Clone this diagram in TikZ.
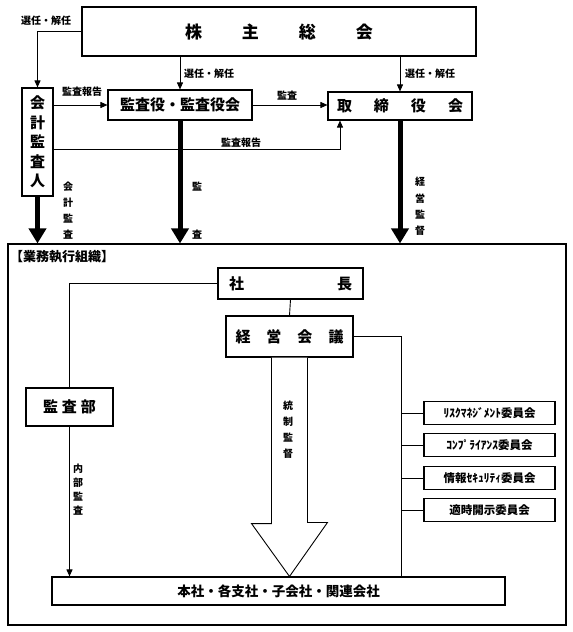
\documentclass[tikz,border=0pt]{standalone}
\usepackage{fontspec}
\setmainfont{Noto Sans CJK JP}
\usetikzlibrary{arrows.meta,calc}

\begin{document}
\begin{tikzpicture}[x=1pt,y=-1pt,
  box/.style={draw,line width=1.1pt,fill=white,inner sep=0pt,font=\bfseries\fontsize{15}{15}\selectfont},
  iinkaibox/.style={box,minimum width=131pt,minimum height=23pt,font=\bfseries\fontsize{11.5}{12}\selectfont},
  lbl/.style={inner sep=0pt,font=\bfseries\fontsize{10}{10}\selectfont},
  vlbl/.style={lbl,align=center},
  line/.style={line width=0.9pt},
  arr/.style={line,-{Triangle[width=6pt,length=7pt]}},
  bigarr/.style={line width=5pt,-{Triangle[width=17pt,length=15pt]}}]
	\useasboundingbox (0,0) rectangle (573,632);
	
	% Upper part
	\node[box,minimum width=394pt,minimum height=49pt,font=\bfseries\fontsize{17}{17}\selectfont] (kabunushi) at (279,31.5) {株\hspace{40pt}主\hspace{40pt}総\hspace{40pt}会};
	\node[box,minimum width=31pt,minimum height=108pt,align=center,font=\bfseries\fontsize{15}{19.5}\selectfont] (kaikei) at (37.5,142) {会\\計\\監\\査\\人};
	\node[box,minimum width=144pt,minimum height=30pt] (kansayaku) at (180,105) {監査役・監査役会};
	\node[box,minimum width=144pt,minimum height=28pt] (torishimari) at (400,106) {取\hspace{22pt}締\hspace{22pt}役\hspace{22pt}会};
	
	\draw[arr] (kabunushi.west) -| (kaikei.north);
	\draw[arr] (kansayaku.north |- kabunushi.south) -- (kansayaku.north);
	\draw[arr] (torishimari.north |- kabunushi.south) -- (torishimari.north);
	\draw[arr] (kaikei.east |- kansayaku.west) -- (kansayaku.west);
	\draw[arr] (kansayaku.east) -- (kansayaku.east -| torishimari.west);
	\draw[arr] ([yshift=-7pt]kaikei.east) -| ([xshift=-60pt]torishimari.south);
	
	\node[lbl] (sennin1) at (46,21) {選任・解任};
	\node[lbl] (sennin2) at (209,74) {選任・解任};
	\node[lbl] (sennin3) at (430,74) {選任・解任};
	\node[lbl] (hokoku1) at (82,92) {監査報告};
	\node[lbl] (kansa1) at (287,96) {監査};
	\node[lbl] (hokoku2) at (241,143) {監査報告};
	
	% Execution organisation
	\node[box,minimum width=558pt,minimum height=381pt,fill=none] (soshiki) at (287,434.5) {};
	\node[lbl,anchor=west,font=\bfseries\fontsize{13}{13}\selectfont] (titel) at (10,257) {【業務執行組織】};
	
	\draw[bigarr] (kaikei.south) -- (kaikei.south |- soshiki.north);
	\draw[bigarr] (kansayaku.south) -- (kansayaku.south |- soshiki.north);
	\draw[bigarr] (torishimari.south) -- (torishimari.south |- soshiki.north);
	\node[vlbl,font=\bfseries\fontsize{10}{16}\selectfont] (kaikeikansa) at (68,211) {会\\計\\監\\査};
	\node[vlbl,font=\bfseries\fontsize{10}{48}\selectfont] (kansa2) at (197,211) {監\\査};
	\node[vlbl,font=\bfseries\fontsize{10}{16.3}\selectfont] (keieikantoku) at (420,206.5) {経\\営\\監\\督};
	
	\node[box,minimum width=145pt,minimum height=31pt,text width=123pt] (shacho) at (290.5,283.5) {社\hfill 長};
	\node[box,minimum width=127pt,minimum height=41pt] (keiei) at (289.5,336.5) {経\hspace{16pt}営\hspace{16pt}会\hspace{16pt}議};
	\node[box,minimum width=87pt,minimum height=38pt] (kansabu) at (69.5,407) {監\hspace{4pt}査\hspace{4pt}部};
	\node[box,minimum width=453pt,minimum height=28pt,font=\bfseries\fontsize{13.5}{14}\selectfont] (honsha) at (278.5,591) {本社・各支社・子会社・関連会社};
	\foreach \n/\y/\t in {1/413/ﾘｽｸﾏﾈｼﾞﾒﾝﾄ委員会, 2/445/ｺﾝﾌﾟﾗｲｱﾝｽ委員会, 3/478/情報ｾｷｭﾘﾃｨ委員会, 4/510/適時開示委員会}
		\node[iinkaibox] (iinkai\n) at (489.5,\y) {\t};
	\coordinate (bus) at ([xshift=-22pt]iinkai1.west);
	
	\draw[line] (shacho.south) -- (keiei.north);
	\draw[line] (shacho.west) -| (kansabu.north);
	\draw[arr] (kansabu.south) -- (kansabu.south |- honsha.north);
	\draw[line] (keiei.east) -| (bus |- honsha.north);
	\foreach \n in {1,...,4}
		\draw[line] (iinkai\n.west) -- (iinkai\n.west -| bus);
	
	% Hollow arrow
	\draw[line,fill=white] ([xshift=-18pt]keiei.south) -- ++(0,166) -- ++(-20,0) -- (keiei.south |- honsha.north) -- ++(38,-54) -- ++(-20,0) -- ([xshift=18pt]keiei.south);
	\node[vlbl,font=\bfseries\fontsize{10}{16}\selectfont] (tosei) at (288,430) {統\\制\\監\\督};
	\node[vlbl,font=\bfseries\fontsize{10}{14}\selectfont] (naibu) at (78,490) {内\\部\\監\\査};
\end{tikzpicture}
\end{document}
